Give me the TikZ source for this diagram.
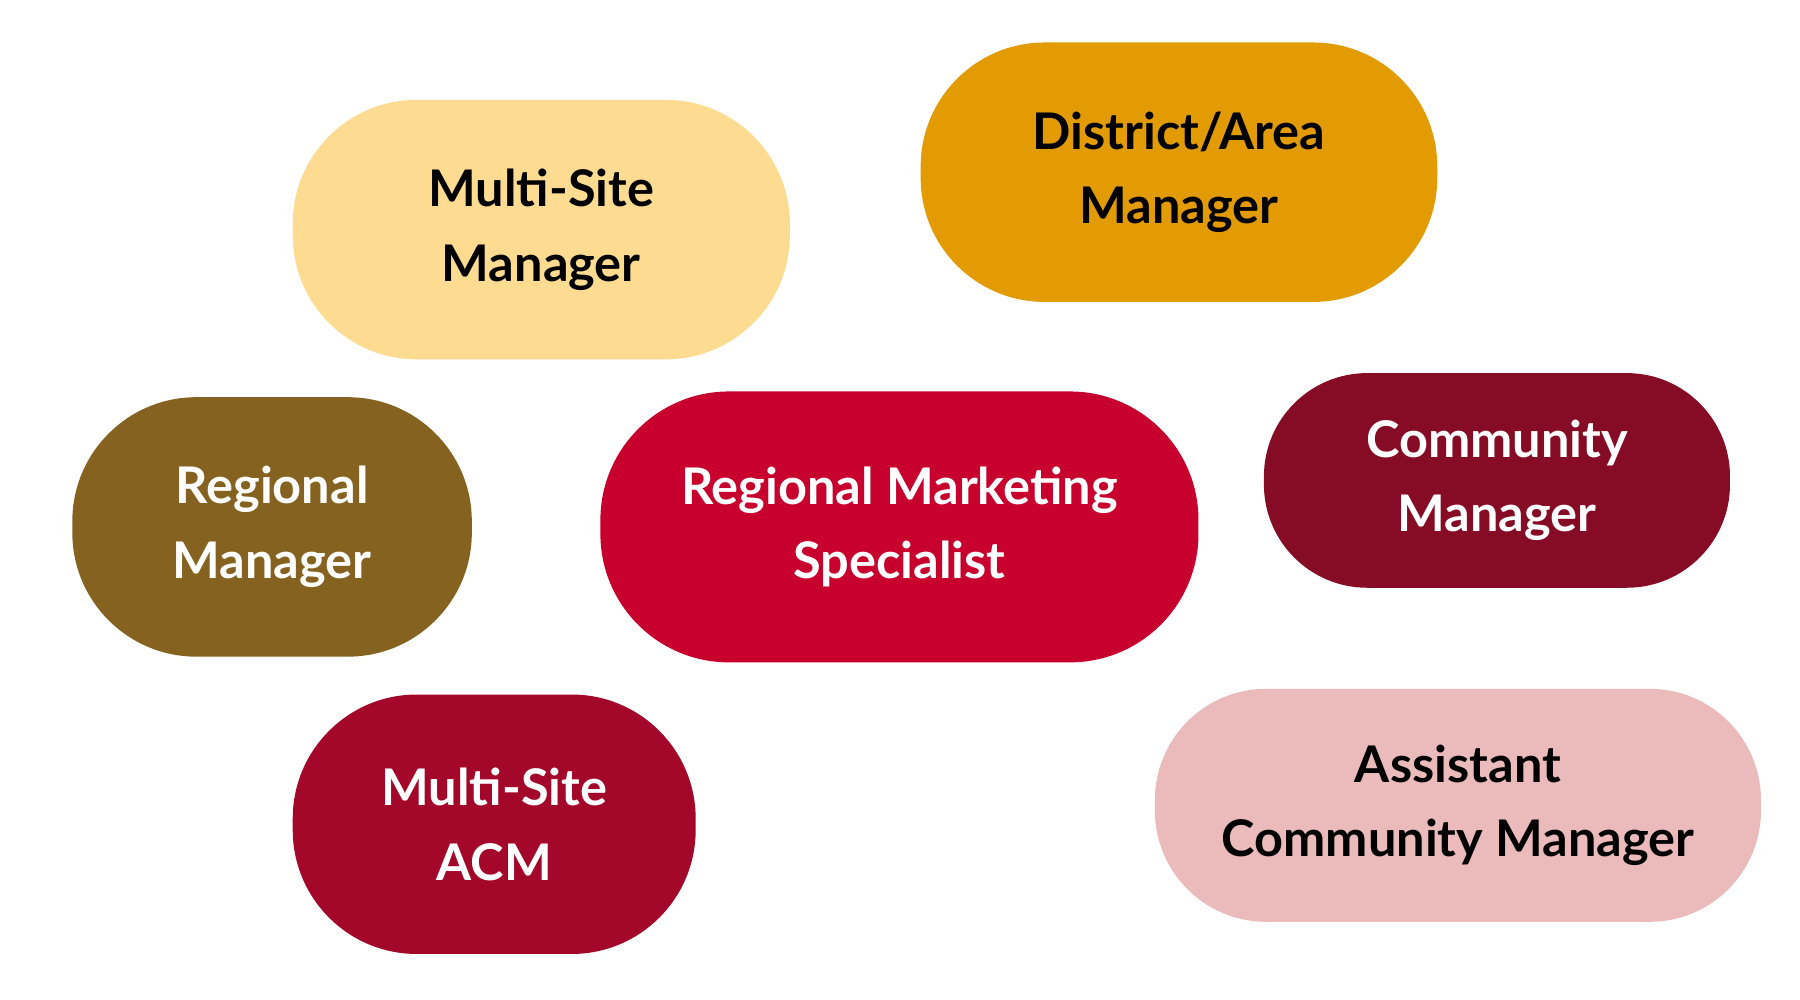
\documentclass[tikz,border=0pt]{standalone}
\usepackage{fontspec}
\setmainfont{Lato}
\definecolor{cA}{HTML}{FDDB90}
\definecolor{cB}{HTML}{E39B04}
\definecolor{cC}{HTML}{85621F}
\definecolor{cD}{HTML}{C8002E}
\definecolor{cE}{HTML}{860C25}
\definecolor{cF}{HTML}{A30729}
\definecolor{cG}{HTML}{EBBBBB}
\tikzset{pill/.style={rounded corners=105pt, align=center, inner sep=0pt, font=\fontsize{44}{64}\selectfont\bfseries}}
\newcommand{\pill}[7]{%
  \fill[#6, rounded corners=#7] (#2,-#3) rectangle (#4,-#5);
}
\begin{document}
\begin{tikzpicture}[x=1pt,y=1pt]
\useasboundingbox (0,0) rectangle (1568,-871);
\fill[white] (0,0) rectangle (1568,-871);
\tikzset{lbl/.style={align=center, font=\fontsize{44}{65}\selectfont\bfseries}}
\fill[cA, rounded corners=108pt] (255,-87) rectangle (688,-313);
\node[lbl, text=black] (n1) at (471.5,-200) {Multi-Site\\Manager};
\fill[cB, rounded corners=108pt] (802,-37) rectangle (1252,-263);
\node[lbl, text=black] (n2) at (1027,-150) {District/Area\\Manager};
\fill[cC, rounded corners=108pt] (63,-346) rectangle (411,-572);
\node[lbl, text=white] (n3) at (237,-459) {Regional\\Manager};
\fill[cD, rounded corners=112pt] (523,-341) rectangle (1044,-577);
\node[lbl, text=white] (n4) at (783.5,-459) {Regional Marketing\\Specialist};
\fill[cE, rounded corners=90pt] (1101,-325) rectangle (1507,-512);
\node[lbl, text=white] (n5) at (1304,-418.5) {Community\\Manager};
\fill[cF, rounded corners=108pt] (255,-605) rectangle (606,-831);
\node[lbl, text=white] (n6) at (430.5,-718) {Multi-Site\\ACM};
\fill[cG, rounded corners=97pt] (1006,-600) rectangle (1534,-803);
\node[lbl, text=black] (n7) at (1270,-701.5) {Assistant\\Community Manager};
\end{tikzpicture}
\end{document}
